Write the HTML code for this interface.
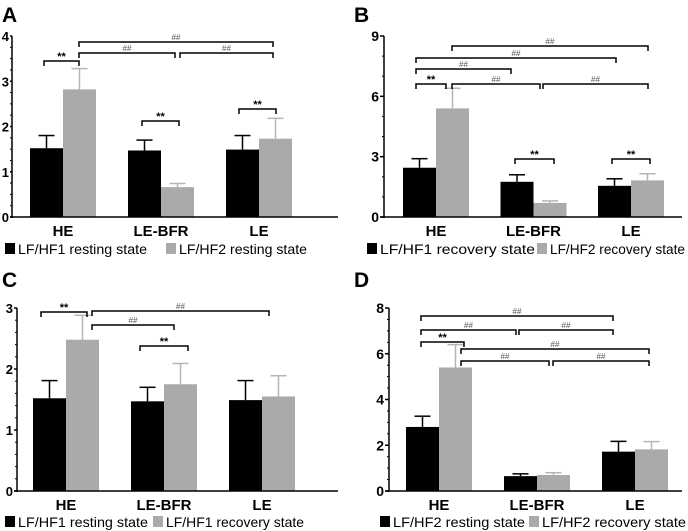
<!DOCTYPE html>
<html><head><meta charset="utf-8"><style>
body{margin:0;background:#fff;width:688px;height:531px;overflow:hidden;font-family:"Liberation Sans",Arial,sans-serif}
svg{display:block}
</style></head><body>
<svg id="fig" width="688" height="531" viewBox="0 0 688 531" xmlns="http://www.w3.org/2000/svg"></svg>
<script>
const categories = ["HE","LE-BFR","LE"];
const aBlack = [1.52,1.47,1.49], aBlackErr = [1.80,1.70,1.80];
const aGray = [2.82,0.66,1.73], aGrayErr = [3.28,0.74,2.18];
const bBlack = [2.45,1.75,1.55], bBlackErr = [2.9,2.1,1.9];
const bGray = [5.4,0.7,1.82], bGrayErr = [6.4,0.8,2.15];
const cBlack = [1.52,1.47,1.49], cBlackErr = [1.81,1.70,1.81];
const cGray = [2.48,1.75,1.55], cGrayErr = [2.88,2.09,1.89];
const dBlack = [2.8,0.65,1.72], dBlackErr = [3.27,0.75,2.17];
const dGray = [5.4,0.7,1.82], dGrayErr = [6.4,0.8,2.16];
const aTicks = [0,1,2,3,4], bTicks = [0,3,6,9], cTicks = [0,1,2,3], dTicks = [0,2,4,6,8];
const aLegend = ["LF/HF1 resting state","LF/HF2 resting state"];
const bLegend = ["LF/HF1 recovery state","LF/HF2 recovery state"];
const cLegend = ["LF/HF1 resting state","LF/HF1 recovery state"];
const dLegend = ["LF/HF2 resting state","LF/HF2 recovery state"];

const NS="http://www.w3.org/2000/svg";
const svg=document.getElementById('fig');
function mk(tag,attrs,parent,text){const e=document.createElementNS(NS,tag);for(const k in attrs)e.setAttribute(k,attrs[k]);if(text!==undefined)e.textContent=text;(parent||svg).appendChild(e);return e;}

const panels=[
 {id:'a',letter:'A',lx:2,ly:22,ax:12,lo:3,tl:2,fs:13,top:36,bot:217,right:338,max:4,ticks:aTicks,minor:4,x0:30,gap:98,bw:33,blk:aBlack,blkE:aBlackErr,gry:aGray,gryE:aGrayErr,leg:aLegend,legY:249,legX:[5,166],legW:[129,128],
  br:[[44,79,61,'**'],[79,273,42,'##'],[79,175,53,'##'],[180,273,53,'##'],[142,179,121,'**'],[239,276,109,'**']]},
 {id:'b',letter:'B',lx:354,ly:22,ax:384,lo:5,tl:4,fs:14,top:36,bot:217,right:682,max:9,ticks:bTicks,minor:3,x0:403,gap:97.5,bw:33,blk:bBlack,blkE:bBlackErr,gry:bGray,gryE:bGrayErr,leg:bLegend,legY:249,legX:[367,537],legW:[155,135],
  br:[[452,648,46,'##'],[416,616,58,'##'],[416,511,69,'##'],[416,446,84,'**'],[452,540,84,'##'],[543,648,84,'##'],[515,554,159,'**'],[612,650,159,'**']]},
 {id:'c',letter:'C',lx:2,ly:287,ax:17,lo:4,tl:3,fs:13,top:308,bot:491,right:338,max:3,ticks:cTicks,minor:5,x0:33,gap:98,bw:33,blk:cBlack,blkE:cBlackErr,gry:cGray,gryE:cGrayErr,leg:cLegend,legY:522,legX:[5,153],legW:[130,138],
  br:[[41,87,312,'**'],[92,269,311,'##'],[92,174,325,'##'],[140,188,346,'**']]},
 {id:'d',letter:'D',lx:354,ly:287,ax:389,lo:5,tl:4,fs:14,top:308,bot:491,right:682,max:8,ticks:dTicks,minor:4,x0:406,gap:98,bw:33,blk:dBlack,blkE:dBlackErr,gry:dGray,gryE:dGrayErr,leg:dLegend,legY:522,legX:[380,529],legW:[132,144],
  br:[[421,613,316,'##'],[421,516,330,'##'],[519,613,330,'##'],[421,464,342,'**'],[461,649,349,'##'],[461,549,361,'##'],[553,649,361,'##']]}
];

panels.forEach(p=>{
  const g=mk('g',{});
  
  
  const y=v=>p.bot-(v/p.max)*(p.bot-p.top);
  const L=mk('text',{x:p.lx,y:p.ly,'font-size':21,'font-weight':'bold'},g,p.letter);
  
  
  categories.forEach((c,i)=>{
    const xb=p.x0+i*p.gap;
    [[p.blk,p.blkE,'#000',0,'black'],[p.gry,p.gryE,'#aaaaaa',1,'gray']].forEach(s=>{
      const v=s[0][i],e=s[1][i],x=xb+s[3]*p.bw,cx=x+p.bw/2;
      const ecol=s[3]?'#b5b5b5':'#000';
      const el=mk('line',{x1:cx,x2:cx,y1:y(v),y2:y(e),stroke:ecol,'stroke-width':1.5},g);
      
      
      const cap=mk('line',{x1:cx-8,x2:cx+8,y1:y(e),y2:y(e),stroke:ecol,'stroke-width':1.5},g);
      
      
      const r=mk('rect',{x:x,y:y(v),width:p.bw,height:p.bot-y(v),fill:s[2]},g);
      
      
    });
    const t=mk('text',{x:xb+p.bw,y:p.bot+19,'font-size':15,'font-weight':'bold','text-anchor':'middle'},g,c);
    
    
  });
  const ya=mk('line',{x1:p.ax,x2:p.ax,y1:p.top,y2:p.bot+1,stroke:'#000','stroke-width':1.5},g);
  
  
  const xa=mk('line',{x1:p.ax-p.tl,x2:p.right,y1:p.bot,y2:p.bot,stroke:'#000','stroke-width':1.5},g);
  
  
  const step=p.ticks[1]-p.ticks[0];
  p.ticks.forEach((t,k)=>{
    const tl=mk('line',{x1:p.ax-p.tl,x2:p.ax,y1:y(t),y2:y(t),stroke:'#000','stroke-width':1.5},g);
    
    
    const tx=mk('text',{x:p.ax-p.lo,y:y(t)+5,'font-size':p.fs,'font-weight':'bold','text-anchor':'end'},g,String(t));
    
    
    if(k<p.ticks.length-1){for(let m=1;m<p.minor;m++){
      const mv=t+step*m/p.minor;
      const ml=mk('line',{x1:p.ax-2,x2:p.ax,y1:y(mv),y2:y(mv),stroke:'#000','stroke-width':1},g);
      
      
    }}
  });
  p.br.forEach(b=>{
    const bg=mk('g',{},g);
    
    
    mk('path',{d:`M${b[0]},${b[2]+5}V${b[2]}H${b[1]}V${b[2]+5}`,fill:'none',stroke:'#000','stroke-width':1.5},bg);
    const star=b[3]==='**';
    mk('text',{x:(b[0]+b[1])/2,y:b[2]+(star?-1:-2),'font-size':star?11:8,'font-weight':star?'bold':'normal',fill:star?'#000':'#555','text-anchor':'middle'},bg,b[3]);
  });
  [['#000',0],['#aaaaaa',1]].forEach(s=>{
    const lg=mk('g',{},g);
    
    
    const lx=p.legX[s[1]];
    mk('rect',{x:lx,y:p.legY-6,width:10,height:11,fill:s[0]},lg);
    mk('text',{x:lx+13,y:p.legY+5,'font-size':14,textLength:p.legW[s[1]],lengthAdjust:'spacingAndGlyphs'},lg,p.leg[s[1]]);
  });
});
</script>
</body></html>
